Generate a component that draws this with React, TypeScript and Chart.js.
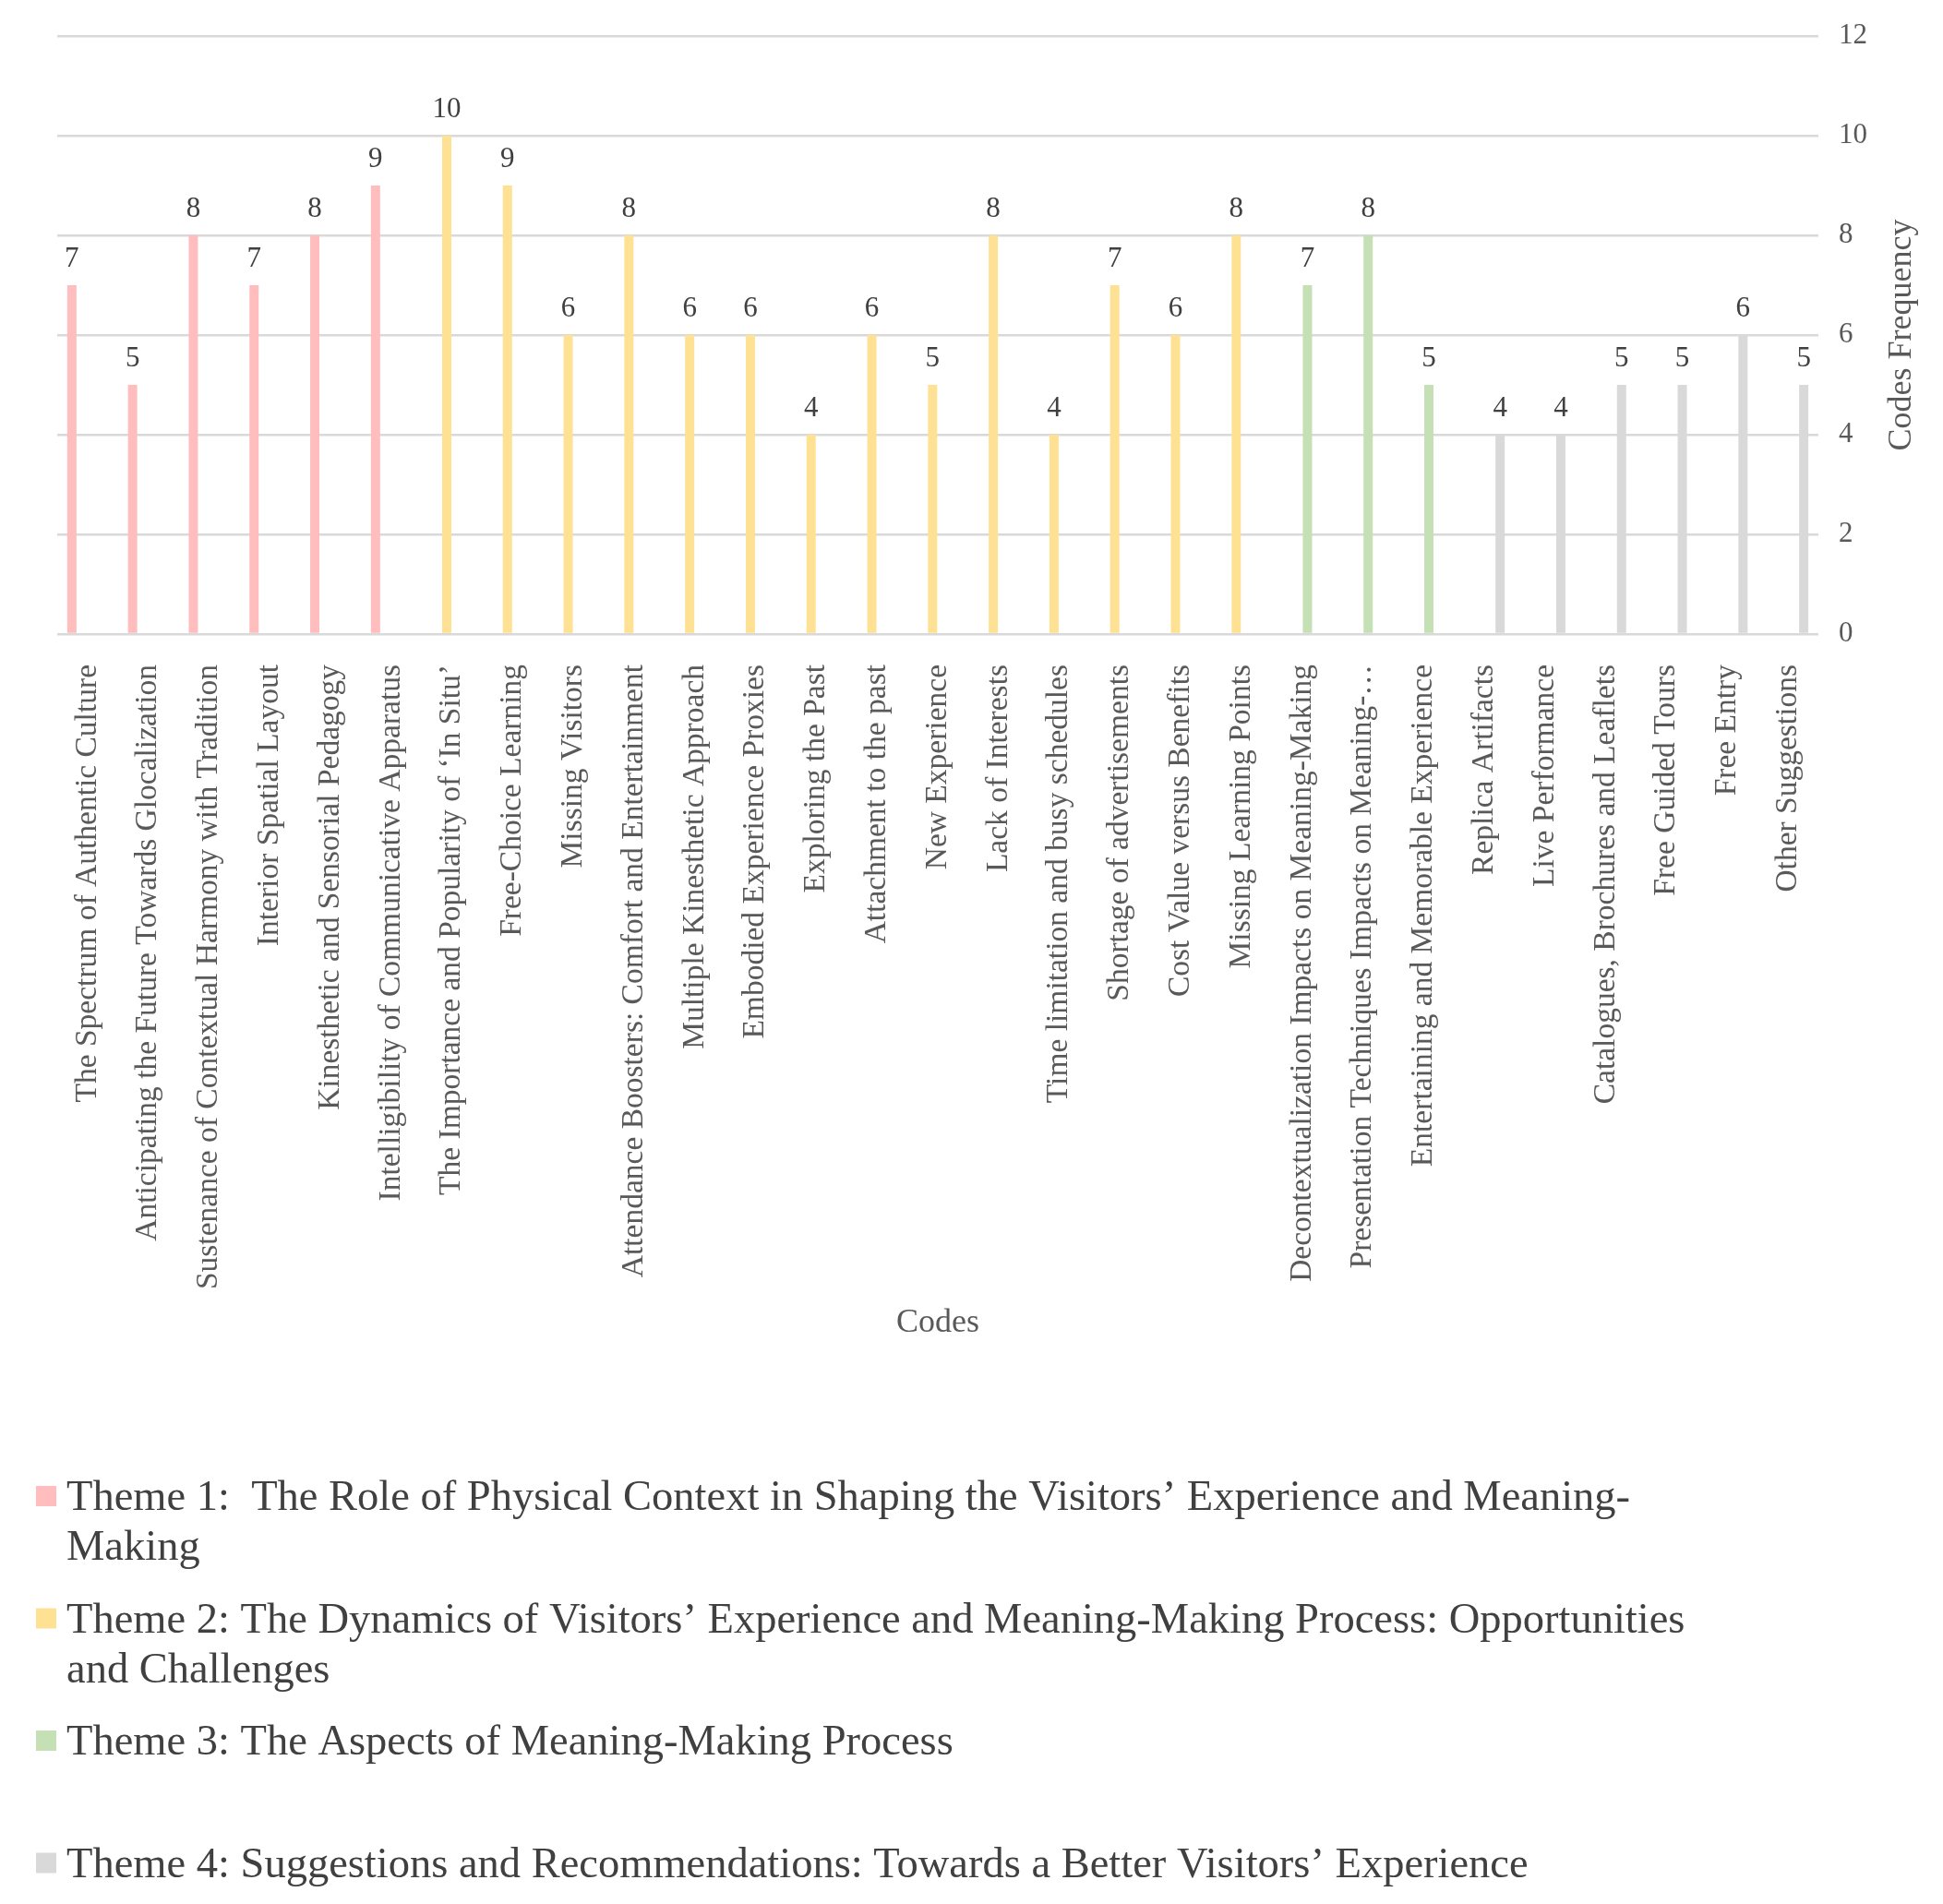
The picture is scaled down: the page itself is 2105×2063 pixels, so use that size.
import React, { useEffect, useRef } from "react";
import { Chart, registerables } from "chart.js";

Chart.register(...registerables);

const categories: string[] = [
  "The Spectrum of Authentic Culture",
  "Anticipating the Future Towards Glocalization",
  "Sustenance of Contextual Harmony with Tradition",
  "Interior Spatial Layout",
  "Kinesthetic and Sensorial Pedagogy",
  "Intelligibility of Communicative Apparatus",
  "The Importance and Popularity of \u2018In Situ\u2019",
  "Free-Choice Learning",
  "Missing Visitors",
  "Attendance Boosters: Comfort and Entertainment",
  "Multiple Kinesthetic Approach",
  "Embodied Experience Proxies",
  "Exploring the Past",
  "Attachment to the past",
  "New Experience",
  "Lack of Interests",
  "Time limitation and busy schedules",
  "Shortage of advertisements",
  "Cost Value versus Benefits",
  "Missing Learning Points",
  "Decontextualization Impacts on Meaning-Making",
  "Presentation Techniques Impacts on Meaning-\u2026",
  "Entertaining and Memorable Experience",
  "Replica Artifacts",
  "Live Performance",
  "Catalogues, Brochures and Leaflets",
  "Free Guided Tours",
  "Free Entry",
  "Other Suggestions",
];

const codeCounts: number[] = [
  7, 5, 8, 7, 8, 9,
  10, 9, 6, 8, 6, 6, 4, 6, 5, 8, 4, 7, 6, 8,
  7, 8, 5,
  4, 4, 5, 5, 6, 5,
];

const codeTheme: number[] = [
  0, 0, 0, 0, 0, 0,
  1, 1, 1, 1, 1, 1, 1, 1, 1, 1, 1, 1, 1, 1,
  2, 2, 2,
  3, 3, 3, 3, 3, 3,
];

const themeLabels: string[] = [
  "Theme 1:  The Role of Physical Context in Shaping the Visitors\u2019 Experience and Meaning-Making",
  "Theme 2: The Dynamics of Visitors\u2019 Experience and Meaning-Making Process: Opportunities and Challenges",
  "Theme 3: The Aspects of Meaning-Making Process",
  "Theme 4: Suggestions and Recommendations: Towards a Better Visitors\u2019 Experience",
];

const themeLegendLines: string[][] = [
  ["Theme 1:  The Role of Physical Context in Shaping the Visitors\u2019 Experience and Meaning-", "Making"],
  ["Theme 2: The Dynamics of Visitors\u2019 Experience and Meaning-Making Process: Opportunities", "and Challenges"],
  ["Theme 3: The Aspects of Meaning-Making Process"],
  ["Theme 4: Suggestions and Recommendations: Towards a Better Visitors\u2019 Experience"],
];

const themeColors: string[] = ["#FFBDBD", "#FFE194", "#C5E0B4", "#D9D9D9"];

const yMin = 0;
const yMax = 12;
const yStep = 2;
const xTitle = "Codes";
const yTitle = "Codes Frequency";

const FONT = "'Liberation Serif', 'Times New Roman', serif";
const TEXT_GRAY = "#595959";
const DARK_TEXT = "#404040";

const valueLabelPlugin = {
  id: "valueLabels",
  afterDatasetsDraw(chart: any) {
    const ctx = chart.ctx;
    ctx.save();
    ctx.font = `31px ${FONT}`;
    ctx.fillStyle = DARK_TEXT;
    ctx.textAlign = "center";
    ctx.textBaseline = "alphabetic";
    chart.data.datasets.forEach((ds: any, di: number) => {
      const meta = chart.getDatasetMeta(di);
      meta.data.forEach((el: any, j: number) => {
        const v = ds.data[j];
        if (v === null || v === undefined) return;
        ctx.fillText(String(v), el.x, el.y - 20);
      });
    });
    ctx.restore();
  },
};

const yTitlePlugin = {
  id: "yTitleLeftReading",
  afterDraw(chart: any) {
    const ctx = chart.ctx;
    const ca = chart.chartArea;
    const yScale = chart.scales.y;
    ctx.save();
    ctx.font = `36px ${FONT}`;
    ctx.fillStyle = TEXT_GRAY;
    ctx.textAlign = "center";
    ctx.textBaseline = "middle";
    ctx.translate(yScale.right - 36, (ca.top + ca.bottom) / 2);
    ctx.rotate(-Math.PI / 2);
    ctx.fillText(yTitle, 0, 0);
    ctx.restore();
  },
};

const legendPlugin = {
  id: "wrappedLegend",
  afterDraw(chart: any) {
    const ctx = chart.ctx;
    const firstBaseline = chart.height - 419;
    const itemStep = 132.5;
    const lineStep = 54;
    ctx.save();
    ctx.font = `46.5px ${FONT}`;
    ctx.textAlign = "left";
    ctx.textBaseline = "alphabetic";
    themeLegendLines.forEach((lines, i) => {
      const base = firstBaseline + i * itemStep;
      ctx.fillStyle = chart.data.datasets[i].backgroundColor;
      ctx.fillRect(31, base - 26, 22, 22);
      ctx.fillStyle = DARK_TEXT;
      lines.forEach((line, k) => {
        ctx.fillText(line, 64, base + k * lineStep);
      });
    });
    ctx.restore();
  },
};

export default function App() {
  const canvasRef = useRef<HTMLCanvasElement | null>(null);

  useEffect(() => {
    if (!canvasRef.current) return;
    const datasets = themeLabels.map((label, t) => ({
      label,
      data: codeCounts.map((v, i) => (codeTheme[i] === t ? v : null)),
      backgroundColor: themeColors[t],
      borderWidth: 0,
      categoryPercentage: 0.69,
      barPercentage: 0.88,
    }));

    const chart = new Chart(canvasRef.current, {
      type: "bar",
      data: { labels: categories, datasets },
      options: {
        animation: false,
        responsive: false,
        devicePixelRatio: 1,
        layout: { padding: { left: 54, top: 31, right: 0, bottom: 596 } },
        plugins: {
          legend: { display: false },
          tooltip: { enabled: false },
        },
        scales: {
          x: {
            grid: { display: false, drawTicks: false },
            border: { display: false },
            ticks: {
              autoSkip: false,
              minRotation: 90,
              maxRotation: 90,
              padding: 33,
              color: TEXT_GRAY,
              font: { family: FONT, size: 33.5 },
            },
            title: {
              display: true,
              text: xTitle,
              color: TEXT_GRAY,
              font: { family: FONT, size: 36 },
              padding: { top: 0, bottom: 4 },
            },
            afterFit: (scale: any) => {
              scale.height = 772;
            },
          },
          y: {
            position: "right",
            min: yMin,
            max: yMax,
            grid: { color: "#D9D9D9", lineWidth: 2.5, drawTicks: false },
            border: { display: false },
            ticks: {
              stepSize: yStep,
              padding: 22,
              color: TEXT_GRAY,
              font: { family: FONT, size: 31 },
            },
            afterFit: (scale: any) => {
              scale.width = 127;
              scale.paddingTop = 10;
              scale.paddingBottom = 10;
            },
          },
        },
      },
      plugins: [valueLabelPlugin, yTitlePlugin, legendPlugin],
    });
    return () => chart.destroy();
  }, []);

  return (
    <div style={{ width: 2089, height: 2047 }}>
      <canvas ref={canvasRef} width={2089} height={2047} style={{ display: "block" }} />
    </div>
  );
}
